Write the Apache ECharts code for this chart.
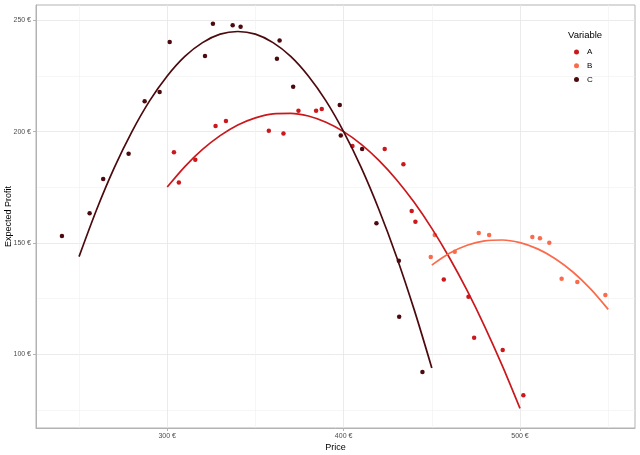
<!DOCTYPE html>
<html>
<head>
<meta charset="utf-8">
<title>Expected Profit</title>
<script src="https://cdn.jsdelivr.net/npm/echarts@6/dist/echarts.min.js"></script>
<style>
  html, body { margin: 0; padding: 0; background: #fff; }
  #chart { width: 640px; height: 455px; }
</style>
</head>
<body>
<div id="chart"></div>
<script>
// observed points
var aPrice  = [303.8, 306.6, 315.9, 327.4, 333.3, 357.6, 365.9, 374.4, 384.4, 387.6, 405.0, 423.3, 433.9, 438.6, 440.7, 456.8, 470.8, 474.0, 490.2, 501.9];
var aProfit = [190.7, 177.1, 187.4, 202.5, 204.8, 200.4, 199.1, 209.4, 209.4, 210.2, 193.5, 192.2, 185.3, 164.3, 159.5, 133.5, 125.8, 107.4, 101.9, 81.5];

var bPrice  = [449.4, 451.7, 463.0, 476.6, 482.5, 507.0, 511.3, 516.6, 523.6, 532.5, 548.4];
var bProfit = [143.7, 153.5, 146.0, 154.4, 153.5, 152.6, 152.1, 150.0, 133.9, 132.4, 126.6];

var cPrice  = [240.3, 256.0, 263.7, 278.1, 287.2, 295.7, 301.4, 321.4, 325.9, 337.1, 341.6, 363.7, 362.2, 371.4, 397.8, 398.4, 410.5, 418.6, 431.3, 431.5, 444.7];
var cProfit = [153.1, 163.3, 178.7, 190.1, 213.7, 217.8, 240.3, 234.0, 248.5, 247.8, 247.1, 241.0, 232.7, 220.2, 212.0, 198.2, 192.2, 158.8, 142.0, 116.8, 92.0];

// fitted curves
var aFitPrice  = [300, 310, 320, 330, 340, 350, 360, 370, 380, 390, 400, 410, 420, 430, 440, 450, 460, 470, 480, 490, 500];
var aFitProfit = [175.1, 184.3, 192.0, 198.2, 203.0, 206.2, 208.0, 208.2, 207.0, 204.2, 200.0, 194.3, 187.1, 178.4, 168.2, 156.5, 143.3, 128.6, 112.4, 94.7, 75.6];

var bFitPrice  = [450, 460, 470, 480, 490, 500, 510, 520, 530, 540, 550];
var bFitProfit = [140.0, 145.3, 148.9, 150.9, 151.3, 150.1, 147.3, 142.9, 136.9, 129.3, 120.1];

var cFitPrice  = [250, 260, 270, 280, 290, 300, 310, 320, 330, 340, 350, 360, 370, 380, 390, 400, 410, 420, 430, 440, 450];
var cFitProfit = [143.8, 165.0, 183.8, 200.0, 213.8, 225.0, 233.8, 240.0, 243.8, 245.0, 243.8, 240.0, 233.8, 225.0, 213.8, 200.0, 183.8, 165.0, 143.8, 120.0, 93.8];

var xTicks = [300, 400, 500];
var yTicks = [100, 150, 200, 250];

var groups = ['A', 'B', 'C'];
var colors = { A: '#cb181d', B: '#fb6a4a', C: '#4d0a0e' };

function zip(xs, ys) {
  return xs.map(function (x, i) { return [x, ys[i]]; });
}

var points = { A: zip(aPrice, aProfit), B: zip(bPrice, bProfit), C: zip(cPrice, cProfit) };
var fits = { A: zip(aFitPrice, aFitProfit), B: zip(bFitPrice, bFitProfit), C: zip(cFitPrice, cFitProfit) };

var font = '"Liberation Sans", Arial, sans-serif';
var series = [];
groups.forEach(function (g) {
  series.push({
    name: g,
    type: 'scatter',
    data: points[g],
    symbolSize: 4.5,
    itemStyle: { color: colors[g], opacity: 1 },
    z: 2
  });
});
groups.forEach(function (g) {
  series.push({
    name: g,
    type: 'line',
    data: fits[g],
    smooth: 0.3,
    showSymbol: false,
    lineStyle: { color: colors[g], width: 1.7 },
    itemStyle: { color: colors[g] },
    z: 3
  });
});

var myChart = echarts.init(document.getElementById('chart'));

var axisCommon = {
  type: 'value',
  nameLocation: 'middle',
  nameMoveOverlap: false,
  nameTextStyle: { color: '#000', fontSize: 9, fontFamily: font },
  axisLine: { show: true, lineStyle: { color: '#b3b3b3', width: 1 } },
  axisTick: { show: true, length: 3, lineStyle: { color: '#b3b3b3' } },
  axisLabel: {
    color: '#4d4d4d', fontSize: 7, fontFamily: font,
    formatter: function (v) { return v + ' €'; }
  },
  splitLine: { show: true, lineStyle: { color: '#e6e6e6', width: 0.8 } },
  minorTick: { show: false, splitNumber: 2 },
  minorSplitLine: { show: true, lineStyle: { color: '#f0f0f0', width: 0.6 } }
};

const option = {
  backgroundColor: '#fff',
  animation: false,
  grid: {
    left: 36, right: 5, top: 5, bottom: 27,
    outerBoundsMode: 'none',
    show: true, borderColor: '#b3b3b3', borderWidth: 1
  },
  xAxis: echarts.util.merge({
    name: 'Price',
    nameGap: 15,
    min: 225.6,
    max: 565.2,
    splitNumber: 3,
    axisTick: { customValues: xTicks },
    axisLabel: { customValues: xTicks, margin: 5 }
  }, axisCommon),
  yAxis: echarts.util.merge({
    name: 'Expected Profit',
    nameGap: 23,
    min: 66.8,
    max: 256.9,
    splitNumber: 4,
    axisTick: { customValues: yTicks },
    axisLabel: { customValues: yTicks, margin: 5 }
  }, axisCommon),
  legend: {
    data: groups.map(function (g) { return { name: g, icon: 'circle' }; }),
    orient: 'vertical',
    left: 569,
    top: 40,
    itemWidth: 5,
    itemHeight: 5,
    itemGap: 0,
    textStyle: { color: '#000', fontSize: 8, fontFamily: font, lineHeight: 13.8, padding: [0, 0, 0, 3] }
  },
  graphic: [{
    type: 'text',
    left: 568,
    top: 30,
    style: { text: 'Variable', fontSize: 9.5, fontFamily: font, fill: '#000' }
  }],
  series: series
};

myChart.setOption(option);
window.addEventListener('resize', function () {
  myChart.resize();
});
</script>
</body>
</html>
